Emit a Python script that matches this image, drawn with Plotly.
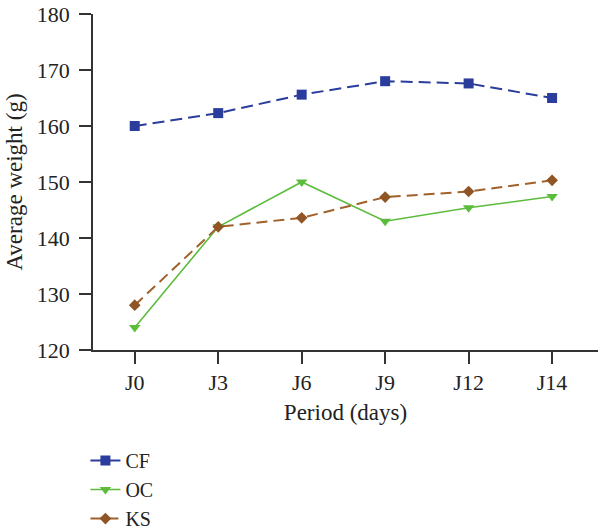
import plotly.graph_objects as go

periods = ["J0", "J3", "J6", "J9", "J12", "J14"]
cf = [160.0, 162.3, 165.6, 168.0, 167.6, 165.0]
oc = [124.0, 142.0, 150.0, 143.0, 145.4, 147.4]
ks = [128.0, 142.0, 143.6, 147.3, 148.3, 150.3]

font_family = "Liberation Serif, DejaVu Serif, serif"

fig = go.Figure()
fig.add_trace(go.Scatter(x=periods, y=cf, name="CF", mode="lines+markers",
                         line=dict(color="#2a3c9c", width=2, dash="12px,6px"),
                         marker=dict(symbol="square", size=10, color="#2a3c9c")))
fig.add_trace(go.Scatter(x=periods, y=oc, name="OC", mode="lines+markers",
                         line=dict(color="#5cbc3c", width=1.6),
                         marker=dict(symbol="triangle-down", size=10, color="#5cbc3c")))
fig.add_trace(go.Scatter(x=periods, y=ks, name="KS", mode="lines+markers",
                         line=dict(color="#a0612a", width=2, dash="11px,6px"),
                         marker=dict(symbol="diamond", size=9, color="#8f5524")))

fig.update_layout(
    width=600, height=531,
    margin=dict(l=93, r=2, t=14, b=181, autoexpand=False),
    paper_bgcolor="white", plot_bgcolor="white",
    font=dict(family=font_family, color="#222", size=22),
    legend=dict(x=-0.015, y=-0.271, xanchor="left", yanchor="top",
                font=dict(size=20, family=font_family),
                tracegroupgap=0, itemwidth=30,
                bgcolor="rgba(0,0,0,0)"),
    xaxis=dict(type="category", range=[-0.5, 5.55],
               showline=True, linecolor="#333", linewidth=1.5,
               ticks="outside", ticklen=12, tickcolor="#333", tickwidth=1.5,
               showgrid=False, zeroline=False,
               tickfont=dict(size=22, family=font_family),
               title=dict(text="Period (days)", font=dict(size=23, family=font_family), standoff=10)),
    yaxis=dict(range=[120, 180], dtick=10,
               showline=True, linecolor="#333", linewidth=1.5,
               ticks="outside", ticklen=12, tickcolor="#333", tickwidth=1.5,
               ticklabelstandoff=5,
               showgrid=False, zeroline=False,
               tickfont=dict(size=22, family=font_family),
               title=dict(text="Average weight (g)", font=dict(size=23, family=font_family), standoff=8)),
)

fig.write_html("out.html")
